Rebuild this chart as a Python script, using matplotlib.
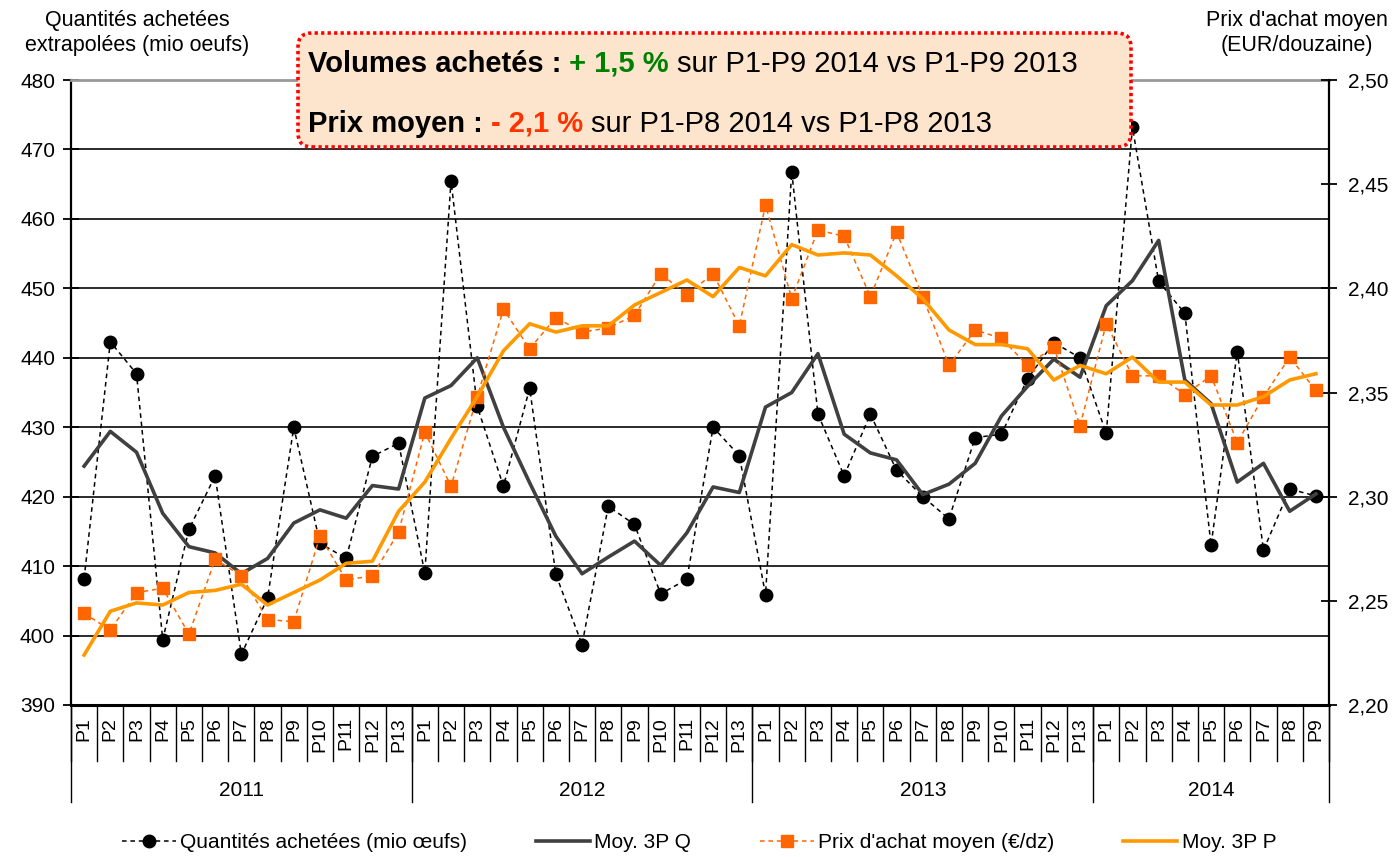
import matplotlib.pyplot as plt
from matplotlib.patches import FancyBboxPatch
from matplotlib.offsetbox import TextArea, HPacker, AnnotationBbox

plt.rcParams['font.family'] = ['Liberation Sans', 'DejaVu Sans']

years = ["2011", "2012", "2013", "2014"]
periods_per_year = [13, 13, 13, 9]
periods = [f"P{i}" for i in range(1, 14)] * 3 + [f"P{i}" for i in range(1, 10)]

# quantités achetées extrapolées (mio oeufs)
quantites = [408.2, 442.3, 437.7, 399.4, 415.3, 423.0, 397.3, 405.4, 430.0, 413.3, 411.1, 425.8, 427.7,
             409.0, 465.5, 433.0, 421.5, 435.6, 408.8, 398.7, 418.6, 416.0, 406.0, 408.1, 430.0, 425.9,
             405.9, 466.8, 431.9, 423.0, 431.9, 423.8, 420.0, 416.8, 428.5, 429.0, 437.0, 442.2, 440.0,
             429.1, 473.2, 451.0, 446.4, 413.0, 440.9, 412.3, 421.1, 420.1]
moy_q = [424.4, 429.4, 426.4, 417.6, 412.8, 411.9, 408.9, 411.1, 416.2, 418.1, 416.9, 421.6, 421.1,
         434.2, 436.0, 440.0, 430.0, 422.0, 414.3, 408.9, 411.3, 413.6, 410.1, 414.8, 421.4, 420.6,
         432.9, 435.0, 440.6, 429.0, 426.3, 425.3, 420.3, 421.8, 424.8, 431.6, 435.9, 439.8, 437.2,
         447.5, 451.1, 456.9, 436.8, 433.4, 422.1, 424.8, 417.9, 420.4]

# prix d'achat moyen (EUR/douzaine)
prix = [2.244, 2.236, 2.254, 2.256, 2.234, 2.270, 2.262, 2.241, 2.240, 2.281, 2.260, 2.262, 2.283,
        2.331, 2.305, 2.348, 2.390, 2.371, 2.386, 2.379, 2.381, 2.387, 2.407, 2.397, 2.407, 2.382,
        2.440, 2.395, 2.428, 2.425, 2.396, 2.427, 2.396, 2.363, 2.380, 2.376, 2.363, 2.372, 2.334,
        2.383, 2.358, 2.358, 2.349, 2.358, 2.326, 2.348, 2.367, 2.351]
moy_p = [2.224, 2.245, 2.249, 2.248, 2.254, 2.255, 2.258, 2.248, 2.254, 2.260, 2.268, 2.269, 2.293,
         2.307, 2.328, 2.348, 2.370, 2.383, 2.379, 2.382, 2.382, 2.392, 2.398, 2.404, 2.396, 2.410,
         2.406, 2.421, 2.416, 2.417, 2.416, 2.406, 2.395, 2.380, 2.373, 2.373, 2.371, 2.356, 2.363,
         2.359, 2.367, 2.355, 2.355, 2.344, 2.344, 2.348, 2.356, 2.359]

q_ticks = list(range(390, 481, 10))
p_ticks = [2.20, 2.25, 2.30, 2.35, 2.40, 2.45, 2.50]

fig = plt.figure(figsize=(13.98, 8.57), dpi=100)
ax = fig.add_axes([71/1398, 1 - 705/857, 1258/1398, 625/857])
ax2 = ax.twinx()

x = list(range(len(periods)))
l1, = ax.plot(x, quantites, color='black', lw=1.1, ls=(0, (3, 2.5)), marker='o', ms=9,
              label="Quantités achetées (mio œufs)")
l2, = ax.plot(x, moy_q, color='#404040', lw=2.6, label="Moy. 3P Q")
l3, = ax2.plot(x, prix, color='#FF6600', lw=1.1, ls=(0, (3, 2.5)), marker='s', ms=9,
               label="Prix d'achat moyen (€/dz)")
l4, = ax2.plot(x, moy_p, color='#FF9900', lw=2.6, label="Moy. 3P P")

ax.set_xlim(-0.5, len(periods) - 0.5)
ax.set_ylim(390, 480)
ax2.set_ylim(2.20, 2.50)
ax.set_yticks(q_ticks)
ax2.set_yticks(p_ticks)
ax2.set_yticklabels([f"{t:.2f}".replace('.', ',') for t in p_ticks])
ax.tick_params(axis='x', bottom=False, labelbottom=False)
ax2.tick_params(axis='x', bottom=False, labelbottom=False)
ax.tick_params(axis='y', direction='inout', length=11, width=1.3, pad=6, labelsize=15)
ax2.tick_params(axis='y', direction='inout', length=11, width=1.3, pad=8, labelsize=15)

ax.grid(axis='y', color='#1a1a1a', lw=1.3)
ax.set_axisbelow(True)
for s in ['top', 'bottom', 'left']:
    ax2.spines[s].set_visible(False)
ax.spines['right'].set_visible(False)
ax.spines['top'].set_color('#999999')
ax.spines['top'].set_linewidth(2)
ax.spines['left'].set_linewidth(1.6)
ax.spines['bottom'].set_linewidth(2.2)
ax2.spines['right'].set_linewidth(1.6)

# axe des catégories à deux niveaux
trans = ax.get_xaxis_transform()
for i, p in enumerate(periods):
    ax.text(i, -0.019, p, rotation=90, ha='center', va='top', fontsize=14, transform=trans)
for k in range(len(periods) + 1):
    ax.plot([k - 0.5, k - 0.5], [0, -0.09], transform=trans, clip_on=False, color='black', lw=1)
start = 0
for yr, n in zip(years, periods_per_year):
    ax.plot([start - 0.5, start - 0.5], [0, -0.155], transform=trans, clip_on=False, color='black', lw=1)
    ax.text(start + (n - 1) / 2, -0.136, yr, ha='center', va='center', fontsize=15, transform=trans)
    start += n
ax.plot([start - 0.5, start - 0.5], [0, -0.155], transform=trans, clip_on=False, color='black', lw=1)

# titres des axes
fig.text(137/1398, 1 - 33/857, "Quantités achetées\nextrapolées (mio oeufs)", ha='center', va='center',
         fontsize=15.5, linespacing=1.3)
fig.text(1297/1398, 1 - 33/857, "Prix d'achat moyen\n(EUR/douzaine)", ha='center', va='center',
         fontsize=15.5, linespacing=1.3)

# encadré
box = FancyBboxPatch((2.98, 7.10), 8.33, 1.14, boxstyle='round,pad=0,rounding_size=0.14',
                     transform=fig.dpi_scale_trans, facecolor='#FCE4CD', edgecolor='#FF0000',
                     lw=2.6, ls=(0, (0.9, 0.9)))
fig.add_artist(box)

fs = 21
line1 = HPacker(children=[
    TextArea("Volumes achetés :", textprops=dict(fontsize=fs, weight='bold')),
    TextArea("+ 1,5 %", textprops=dict(fontsize=fs, weight='bold', color='#008000')),
    TextArea("sur P1-P9 2014 vs P1-P9 2013", textprops=dict(fontsize=fs)),
], pad=0, sep=5.8, align='baseline')
line2 = HPacker(children=[
    TextArea("Prix moyen :", textprops=dict(fontsize=fs, weight='bold')),
    TextArea("- 2,1 %", textprops=dict(fontsize=fs, weight='bold', color='#FF3300')),
    TextArea("sur P1-P8 2014 vs P1-P8 2013", textprops=dict(fontsize=fs)),
], pad=0, sep=5.8, align='baseline')
for line, ypix in [(line1, 857 - 64), (line2, 857 - 123.5)]:
    ab = AnnotationBbox(line, (308, ypix), xycoords='figure pixels', box_alignment=(0, 0.5),
                        frameon=False, pad=0)
    fig.add_artist(ab)

fig.legend([l1, l2, l3, l4], [l.get_label() for l in [l1, l2, l3, l4]], loc='center',
           bbox_to_anchor=(0.5, 14/857), ncol=4, frameon=False, fontsize=15, handlelength=2.6,
           handletextpad=0.2, columnspacing=3.3, numpoints=1)

fig.savefig("out.png", dpi=100)
